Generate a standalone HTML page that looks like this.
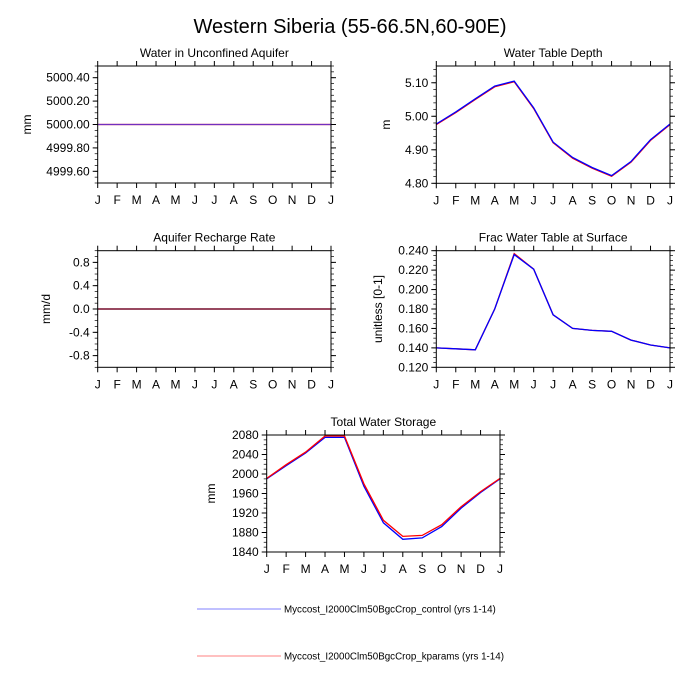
<!DOCTYPE html>
<html><head><meta charset="utf-8"><style>body{margin:0;background:#fff}svg{display:block;font-family:"Liberation Sans",sans-serif}</style></head>
<body><svg id="s" width="700" height="700" viewBox="0 0 700 700"></svg>
<script>
var S=document.getElementById('s'),h='';
h+='<text x="350" y="33" font-size="20" text-anchor="middle">Western Siberia (55-66.5N,60-90E)</text>';
var M=['J','F','M','A','M','J','J','A','S','O','N','D','J'];
function panel(x0,x1,y0,y1,title,ylab,ymin,ymax,ticks,fmt,minor,series){
 var X=function(i){return x0+(x1-x0)*i/12},Y=function(v){return y1-(v-ymin)/(ymax-ymin)*(y1-y0)};
 h+='<text x="'+(x0+x1)/2+'" y="'+(y0-9)+'" font-size="12" text-anchor="middle">'+title+'</text>';
 series.forEach(function(s){var p=s.d.map(function(v,i){return X(i).toFixed(1)+','+Y(v).toFixed(1)}).join(' ');
  h+='<polyline points="'+p+'" fill="none" stroke="'+s.c+'" stroke-width="1.3"/>';});
 h+='<rect x="'+x0+'" y="'+y0+'" width="'+(x1-x0)+'" height="'+(y1-y0)+'" fill="none" stroke="#000" stroke-width="1"/>';
 for(var i=0;i<=12;i++){var x=X(i);h+='<line x1="'+x+'" x2="'+x+'" y1="'+y1+'" y2="'+(y1+5)+'" stroke="#000"/><line x1="'+x+'" x2="'+x+'" y1="'+y0+'" y2="'+(y0-5)+'" stroke="#000"/>';
  h+='<text x="'+x+'" y="'+(y1+21)+'" font-size="12" text-anchor="middle">'+M[i]+'</text>';}
 for(var v=ymin;v<=ymax+1e-9;v+=minor){var y=Y(v);h+='<line x1="'+x0+'" x2="'+(x0-3)+'" y1="'+y+'" y2="'+y+'" stroke="#000" stroke-width=".7"/><line x1="'+x1+'" x2="'+(x1+3)+'" y1="'+y+'" y2="'+y+'" stroke="#000" stroke-width=".7"/>';}
 ticks.forEach(function(v){var y=Y(v);h+='<line x1="'+x0+'" x2="'+(x0-5)+'" y1="'+y+'" y2="'+y+'" stroke="#000"/><line x1="'+x1+'" x2="'+(x1+5)+'" y1="'+y+'" y2="'+y+'" stroke="#000"/>';
  h+='<text x="'+(x0-8)+'" y="'+(y+4)+'" font-size="12" text-anchor="end">'+fmt(v)+'</text>';});
 var lx=ylab.x;h+='<text transform="translate('+lx+','+(y0+y1)/2+') rotate(-90)" font-size="12" text-anchor="middle">'+ylab.t+'</text>';
}
var f2=function(v){return v.toFixed(2)},f1=function(v){return v.toFixed(1)},f3=function(v){return v.toFixed(3)},f0=function(v){return v.toFixed(0)};
var c=[5000,5000,5000,5000,5000,5000,5000,5000,5000,5000,5000,5000,5000];
panel(97.7,331,66,183,'Water in Unconfined Aquifer',{x:31,t:'mm'},4999.5,5000.5,[4999.6,4999.8,5000,5000.2,5000.4],f2,0.05,[{d:c,c:'#f00'},{d:c,c:'#7030c0'}]);
var wt=[4.977,5.013,5.052,5.09,5.105,5.025,4.923,4.877,4.847,4.823,4.865,4.93,4.977];
panel(436.3,670,66,183.3,'Water Table Depth',{x:390,t:'m'},4.8,5.15,[4.8,4.9,5.0,5.1],f2,0.02,[{d:wt.map(function(v){return v-0.002}),c:'#f00'},{d:wt,c:'#00f'}]);
var z=[0,0,0,0,0,0,0,0,0,0,0,0,0];
panel(97.7,331,250.7,367.3,'Aquifer Recharge Rate',{x:50,t:'mm/d'},-1,1,[-0.8,-0.4,0,0.4,0.8],f1,0.1,[{d:z,c:'#00f'},{d:z,c:'#800000'}]);
var fr=[0.140,0.139,0.138,0.180,0.236,0.221,0.174,0.160,0.158,0.157,0.148,0.143,0.140];
panel(436.3,670,250.7,367.3,'Frac Water Table at Surface',{x:382,t:'unitless [0-1]'},0.12,0.24,[0.12,0.14,0.16,0.18,0.2,0.22,0.24],f3,0.005,[{d:fr.map(function(v,i){return i==4?v+0.001:v}),c:'#f00'},{d:fr,c:'#00f'}]);
var tb=[1990,2017,2043,2075,2075,1975,1900,1866,1869,1892,1930,1962,1990];
var tr=[1991,2019,2045,2078,2078,1980,1905,1872,1874,1896,1933,1964,1991];
panel(266.7,500,435,552,'Total Water Storage',{x:215,t:'mm'},1840,2080,[1840,1880,1920,1960,2000,2040,2080],f0,10,[{d:tb,c:'#00f'},{d:tr,c:'#f00'}]);
h+='<line x1="197" x2="281" y1="609" y2="609" stroke="#8080ff"/><text x="284" y="612.5" font-size="9.8">Myccost_I2000Clm50BgcCrop_control (yrs 1-14)</text>';
h+='<line x1="197" x2="281" y1="656" y2="656" stroke="#ff8080"/><text x="284" y="659.5" font-size="9.8">Myccost_I2000Clm50BgcCrop_kparams (yrs 1-14)</text>';
S.innerHTML=h;
</script></body></html>
